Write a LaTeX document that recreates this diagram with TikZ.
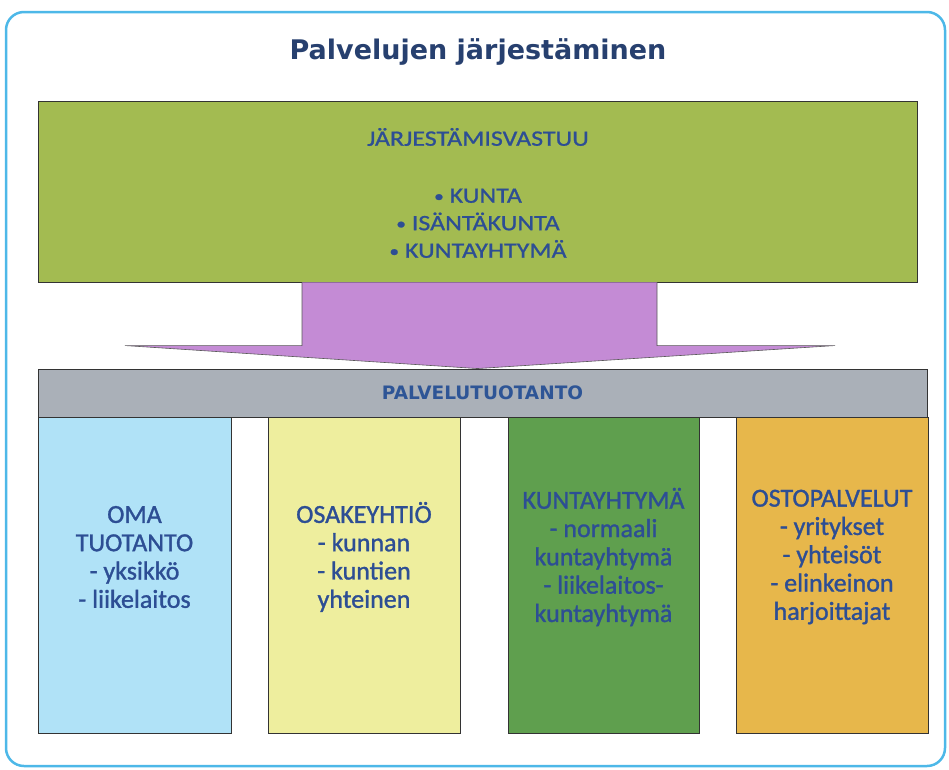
\documentclass[tikz,border=0pt]{standalone}
\usepackage{fontspec}
\setmainfont{Carlito}
\newfontfamily\titlefont{DejaVu Sans}
\newfontfamily\widefont[FakeStretch=1.18,FakeBold=1]{Carlito}
\newfontfamily\panelfont[FakeBold=1.2]{Carlito}
\usetikzlibrary{positioning,calc}

\definecolor{framecol}{HTML}{4DB8E8}
\definecolor{titleblue}{HTML}{27406F}
\definecolor{textblue}{HTML}{2D4E94}
\definecolor{barblue}{HTML}{2E5596}
\definecolor{respgreen}{HTML}{A3BB51}
\definecolor{arrowpurple}{HTML}{C48BD5}
\definecolor{bargrey}{HTML}{AAB0B8}
\definecolor{ownblue}{HTML}{B0E2F7}
\definecolor{compyellow}{HTML}{EEEE9E}
\definecolor{jointgreen}{HTML}{5F9F4E}
\definecolor{buyorange}{HTML}{E7B74B}

\newcommand{\bul}{\raisebox{1pt}{\scalebox{0.75}{•}}}

\begin{document}
\begin{tikzpicture}[x=1pt,y=-1pt,
	panel/.style={draw=black!80,line width=0.9pt,inner sep=0pt,minimum width=192pt,minimum height=316pt},
	paneltext/.style={align=center,text=textblue,font=\panelfont\fontsize{26}{28.3}\selectfont}]
	\useasboundingbox (0,0) rectangle (949,769);
	
	%FRAME
	\draw[framecol,line width=2.5pt,rounded corners=18pt] (6,12) rectangle (945,766);
	
	%TITLE
	\node[text=titleblue,font=\titlefont\bfseries\fontsize{27}{30}\selectfont] (title) at (478,52) {Palvelujen järjestäminen};
	
	%RESPONSIBILITY
	\node[draw=black!80,line width=0.9pt,fill=respgreen,inner sep=0pt,minimum width=879pt,minimum height=181pt] (resp) at (477.5,191.5) {};
	\node[align=center,text=textblue,font=\widefont\fontsize{22}{27.5}\selectfont] (resptext) at (478,193) {JÄRJESTÄMISVASTUU\\[29.5pt]\bul\ KUNTA\\\bul\ ISÄNTÄKUNTA\\\bul\ KUNTAYHTYMÄ};
	
	%PRODUCTION BAR
	\node[draw=black!80,line width=0.9pt,fill=bargrey,inner sep=0pt,minimum width=889pt,minimum height=48pt,
		text=barblue,font=\titlefont\bfseries\fontsize{18.5}{20}\selectfont] (bar) at (482.5,393) {PALVELUTUOTANTO};
	
	%ARROW
	\coordinate (tip) at (resp.south|-bar.north);
	\draw[fill=arrowpurple,draw=black!65,line width=0.6pt,line join=miter]
		(resp.south-|302,0)--($(tip)+(-175.5,-23)$)--($(tip)+(-352.5,-23)$)--(tip)
		--($(tip)+(357.5,-23)$)--($(tip)+(179.5,-23)$)--(resp.south-|657,0);
	
	%PANELS
	\node[panel,fill=ownblue,minimum width=193pt] (own) at (134.5,575) {};
	\node[panel,fill=compyellow] (comp) at (364,575) {};
	\node[panel,fill=jointgreen,minimum width=191pt] (joint) at (603.5,575) {};
	\node[panel,fill=buyorange] (buy) at (832,575) {};
	
	\node[paneltext] (ownlbl) at ($(own.center)+(0,-18)$) {OMA\\TUOTANTO\\- yksikkö\\- liikelaitos};
	\node[paneltext] (complbl) at ($(comp.center)+(0,-18)$) {OSAKEYHTIÖ\\- kunnan\\- kuntien\\yhteinen};
	\node[paneltext] (jointlbl) at ($(joint.center)+(0,-18)$) {KUNTAYHTYMÄ\\- normaali\\kuntayhtymä\\- liikelaitos-\\kuntayhtymä};
	\node[paneltext] (buylbl) at ($(buy.center)+(0,-18)$) {OSTOPALVELUT\\- yritykset\\- yhteisöt\\- elinkeinon\\harjoittajat};
\end{tikzpicture}
\end{document}
